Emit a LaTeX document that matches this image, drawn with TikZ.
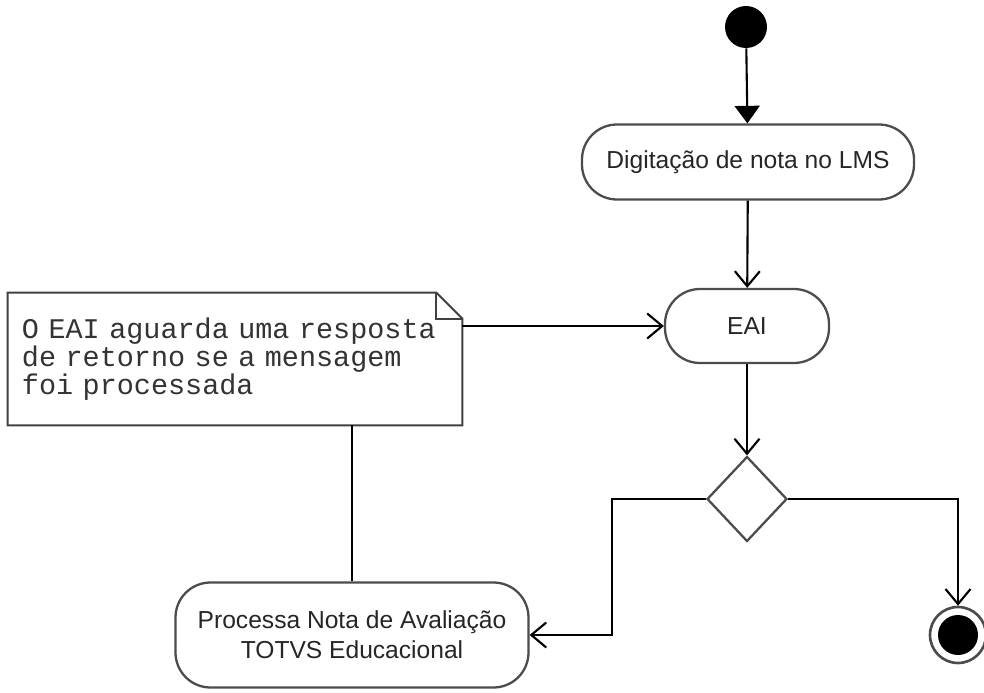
\documentclass[tikz,border=0pt]{standalone}
\usepackage{fontspec}
\setmainfont{Liberation Sans}
\newfontfamily\notefont{Liberation Mono}
\usepackage{tikz}
\usetikzlibrary{arrows.meta,shapes.geometric,shapes.misc,positioning,calc}

\begin{document}
\begin{tikzpicture}[
		act/.style = {rectangle, rounded corners=0.7cm, draw=black!70, line width=1.3pt, text=black!85, font=\fontsize{14}{17}\selectfont, align=center},
		flow/.style = {line width=1.2pt, -{Straight Barb[length=3mm, width=5mm]}},
		link/.style = {line width=1.2pt},
		notebox/.style = {draw=black!75, line width=1.1pt}]
		\useasboundingbox (0,0) rectangle (19.68,-13.86);
		\node [circle, fill=black, minimum size=0.84cm, inner sep=0pt](start) at (14.92,-0.54) {};
		\node [act, minimum width=6.64cm, minimum height=1.5cm](digit) at (14.96,-3.24) {Digitação de nota no LMS};
		\node [act, minimum width=3.28cm, minimum height=1.48cm](eai) at (14.94,-6.52) {EAI};
		\node [diamond, draw=black!70, line width=1.3pt, minimum width=1.6cm, minimum height=1.7cm, inner sep=0pt](dec) at (14.94,-9.98) {};
		\node [act, minimum width=7.06cm, minimum height=2.1cm](proc) at (7.04,-12.7) {Processa Nota de Avaliação\\TOTVS Educacional};
		\node [circle, draw=black!70, line width=1.5pt, minimum size=1.12cm, inner sep=0pt, path picture={\fill (path picture bounding box.center) circle (0.4cm);}](final) at (19.16,-12.7) {};
		% note
		\node [text width=8.52cm, inner xsep=0.28cm, minimum height=2.64cm, align=left, text=black!80, font=\notefont\fontsize{16.2}{15}\selectfont](note) at (4.7,-7.18) {O EAI aguarda uma resposta\\de retorno se a mensagem\\foi processada};
		\draw [notebox] (note.south west) -- (note.north west) -- ([xshift=-0.52cm]note.north east) -- ([yshift=-0.52cm]note.north east) -- (note.south east) -- cycle;
		\draw [notebox] ([xshift=-0.52cm]note.north east) |- ([yshift=-0.52cm]note.north east);
		% connectors
		\draw [line width=1.2pt, -{Triangle[length=3.5mm, width=5mm]}] (start) -- (digit);
		\draw [flow] (digit) -- (eai);
		\draw [flow] (eai) -- (dec);
		\draw [flow] (note.east |- eai.west) -- (eai.west);
		\draw [link] (proc.north |- note.south) -- (proc.north);
		\draw [flow] (dec.west) -- ++(-1.88,0) |- (proc.east);
		\draw [flow] (dec.east) -| (final.north);
\end{tikzpicture}
\end{document}
